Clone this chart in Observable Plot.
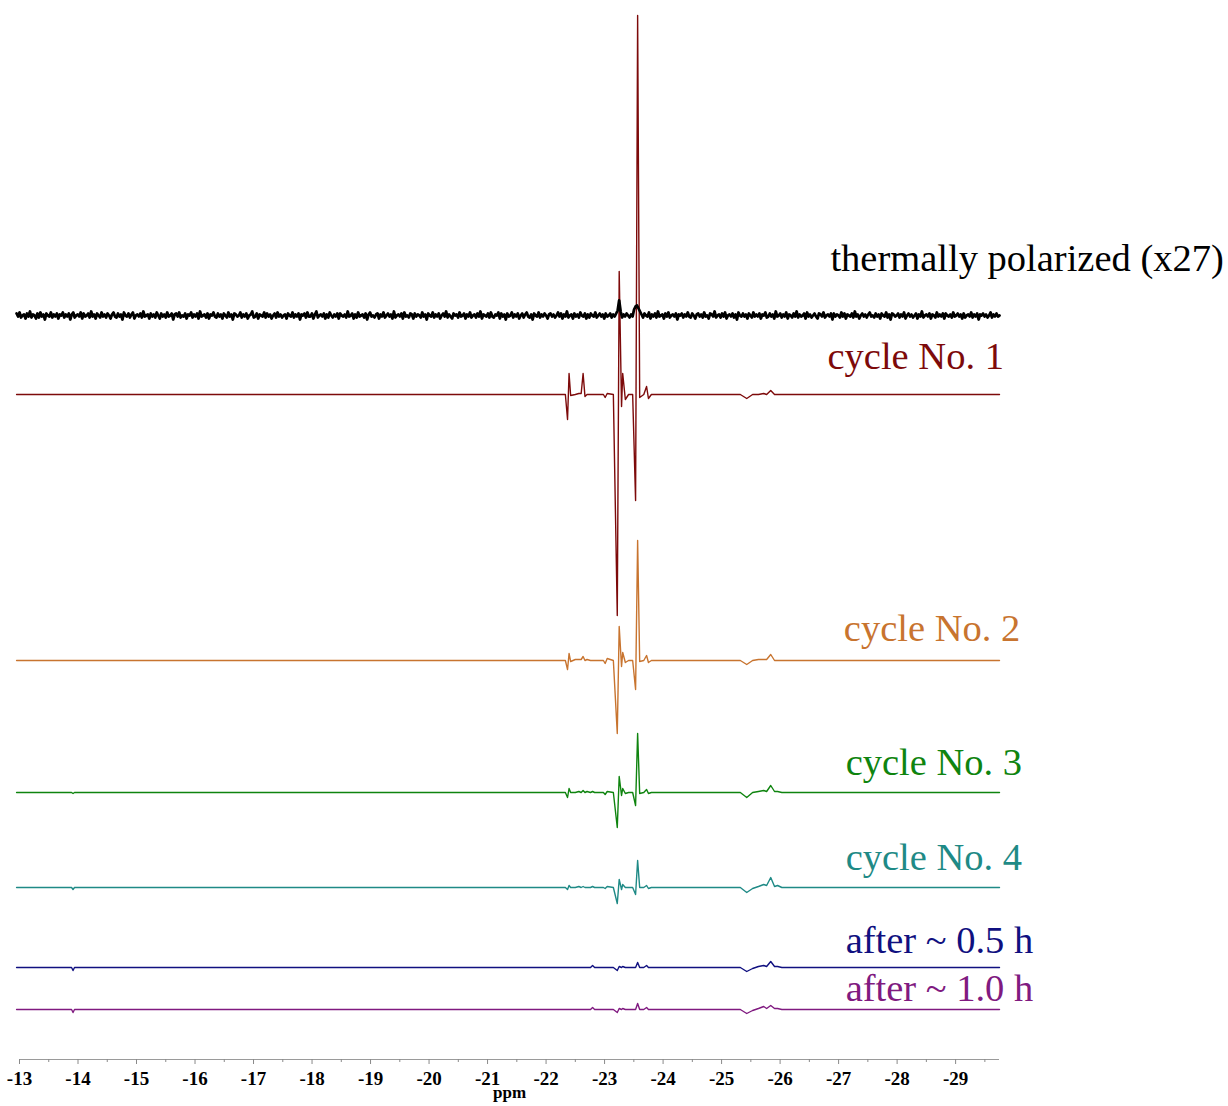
<!DOCTYPE html>
<html>
<head>
<meta charset="utf-8">
<script src="https://cdn.jsdelivr.net/npm/d3@7"></script>
<script src="https://cdn.jsdelivr.net/npm/@observablehq/plot@0.6"></script>
<style>
  html, body { margin: 0; padding: 0; background: #fff; }
  #chart svg { display: block; }
  #chart g[aria-label="x-axis tick label"] text {
    font-family: 'Liberation Serif', 'Times New Roman', serif;
    font-size: 19px;
    font-weight: bold;
  }
</style>
</head>
<body>
<div id="chart"></div>
<script>
// Chemical shift (ppm) of the vertices of the hyperpolarized traces
const shifts = [
  -12.95, -13.89, -13.915, -13.94,
  -22.33, -22.367, -22.393, -22.42, -22.50, -22.56, -22.60, -22.633, -22.665, -22.70,
  -22.76, -22.795, -22.83, -22.98, -23.01, -23.045, -23.15,
  -23.217, -23.25, -23.29, -23.31, -23.355, -23.41,
  -23.48, -23.53, -23.565, -23.60, -23.67, -23.718, -23.75, -23.80,
  -25.32, -25.43, -25.53, -25.63, -25.72, -25.77, -25.84, -25.905, -25.957, -26.03,
  -29.75
];

// Intensities (arbitrary units) at each shift above
const cycle1 = [0, 0, 0, 0,  0, -25, 21, -1, 0, 1, 1, 21, -2, 0,  0, 0, 0, 0, -3, 1, 0,
  -221, 123, -12, 21, -5, 0,  0, -106, 379, -3, 0, 8, -4, 0,  0, -4, 0, 0, 1, 0, 4, 0, 0, 0,  0];
const cycle2 = [0, 0, 0, 0,  0, -9, 7, -1, 1, 1, 1, 4, 0, 1,  0, 0, 0, 0, -3, 2, 0,
  -73, 34, -6, 8, -2, 0,  0, -29, 120, -1, 0, 5, -2, 0,  0, -4, 0, 1, 1, 1, 6, 0, 0, 0,  0];
const cycle3 = [0, 0, -1, 0,  0, -5, 4, 0, 0, 1, 0, 2, 0, 1,  0, 1, 0, 0, -2, 1, 0,
  -35, 16, -3, 4, -1, 0,  0, -13, 59, -1, 0, 3, -1, 0,  0, -5, 0, 1, 2, 1, 7, 1, 1, 0,  0];
const cycle4 = [0, 0, -2, 0,  0, -2, 2, 0, 0, 1, 0, 1, 0, 0,  0, 1, 0, 0, -1, 1, 0,
  -16, 8, -2, 3, 0, 0,  0, -7, 27, 0, 0, 2, -1, 0,  0, -5, -1, 1, 3, 2, 10, 1, 2, 0,  0];
const after05h = [0, 0, -3, 0,  0, 0, 0, 0, 0, 0, 0, 0, 0, 0,  0, 2, 0, 0, 0, 0, 0,
  -3, 1, 0, 1, 0, 0,  0, 0, 5, 0, 0, 2, 0, 0,  0, -4, -1, 1, 2, 1, 6, 1, 1, 0,  0];
const after10h = [0, 0, -3, 0,  0, 0, 0, 0, 0, 0, 0, 0, 0, 0,  0, 2, 0, 0, 0, 0, 0,
  -3, 1, 0, 1, 0, 0,  0, 0, 6, 0, 0, 2, 0, 0,  0, -4, -1, 1, 3, 1, 4, 1, 1, 0,  0];

// Thermally polarized reference (x27), sampled evenly from -12.95 to -29.75 ppm
const thermalStart = -12.95, thermalEnd = -29.75;
const thermal = [
  2,-1,3,-2,0,1,-3,2,-1,4,-2,1,0,-3,2,-2,3,-1,1,-4,2,0,-1,3,-2,1,-1,2,-3,1,
  0,3,-2,1,-1,2,-4,1,3,-2,0,1,-1,3,-3,2,-1,0,2,-2,4,-1,1,-3,2,0,-2,3,-1,1,
  -2,2,0,-3,1,3,-1,-2,2,-1,1,-4,3,0,-1,2,-2,1,3,-3,0,1,-1,2,-2,4,-1,0,1,-3,
  2,-1,1,-2,3,0,-3,2,-1,1,-2,3,-1,0,2,-4,1,2,-1,3,-2,0,-1,2,-3,1,0,3,-2,1,
  -1,2,-3,4,-1,0,1,-2,2,-3,1,0,3,-1,-2,2,-1,1,-3,2,0,-2,3,-1,1,-4,2,1,-1,0,
  3,-2,1,-1,2,-3,0,1,4,-2,-1,2,-3,1,0,-1,3,-2,2,-1,1,-3,0,2,-2,3,-1,1,-2,0,
  1,-3,2,0,-1,3,-2,1,-1,2,-4,1,0,2,-2,3,-1,-1,2,-3,1,4,-2,0,1,-1,2,-3,1,-2,
  3,0,-2,1,-1,2,-3,2,0,-1,1,-2,4,-1,0,2,-3,1,-2,3,-1,0,1,-2,2,-4,1,3,-1,0,
  -2,1,2,-3,1,-1,3,-2,0,2,-1,1,-3,4,-2,0,1,-1,2,-3,3,-1,0,-2,2,1,-3,2,-1,1,
  0,-2,3,-1,1,-4,2,0,-1,3,-2,1,-1,2,-3,0,2,-1,4,-2,1,-1,-3,2,0,1,-2,3,-1,0,
  2,-3,1,-1,3,-2,0,1,-2,2,-1,4,-3,1,0,-1,2,-2,3,-1,-2,1,0,3,-3,2,-1,1,-4,2,
  -1,0,3,-2,1,-1,2,-3,0,2,-2,1,3,-1,-2,1,-4,2,0,-1,3,-2,1,-1,2,0,-3,1,2,-1,
  1,-2,0,3,-1,2,-3,1,-1,4,-2,0,1,-3,2,-1,1,-2,3,0,-1,2,-3,1,-2,2,0,-1,3,-2,
  0,2,-1,1,-3,2,-1,0,2,-2,1,-1,2,5,15,4,-2,1,-1,2,0,-2,1,-1,6,9,10,7,4,1,
  -2,2,0,-1,3,-3,1,-1,2,-2,4,-1,0,1,-3,2,-1,3,-2,0,1,-1,2,-4,1,0,2,-2,1,-1,
  3,-1,-2,2,0,-3,1,2,-1,1,-2,3,-1,0,-3,2,1,-1,4,-2,0,1,-2,2,-1,3,-3,0,1,-1,
  2,-2,1,-4,3,0,-1,2,-1,1,-3,2,0,-2,3,-1,1,-1,2,-3,1,0,3,-2,-1,2,-1,1,-3,4,
  -1,0,2,-2,1,-1,3,-3,1,0,-2,2,-1,4,-2,1,-1,0,2,-3,3,-1,1,-2,0,2,-1,-3,2,1,
  -1,3,-2,0,1,-1,2,-4,2,-1,1,0,-2,3,-1,2,-3,1,0,-1,2,-2,4,-1,1,-3,0,2,-1,1,
  -2,1,3,-1,0,-2,2,-1,1,-3,2,0,-1,3,-2,1,-4,2,1,-1,0,2,-2,1,-1,3,-3,0,2,-1,
  1,-2,0,2,-3,1,-1,4,-2,0,1,-1,2,-3,1,0,-2,3,-1,1,-1,2,-3,2,0,-1,1,-2,3,-1,
  0,2,-1,1,-3,2,-2,0,1,-1,3,-2,1,-1,2,-4,1,0,2,-1,1,-2,0,3,-2,1,-1,2,-1,0
];

const seriesNames = [
  "thermally polarized (x27)", "cycle No. 1", "cycle No. 2", "cycle No. 3",
  "cycle No. 4", "after ~ 0.5 h", "after ~ 1.0 h"
];
const seriesColors = ["#000000", "#7d0a0a", "#c8742f", "#0f840f", "#1f8a86", "#101080", "#801a80"];
const majorTicks = [-13, -14, -15, -16, -17, -18, -19, -20, -21, -22, -23, -24, -25, -26, -27, -28, -29];
const minorTicks = [-13.5, -14.5, -15.5, -16.5, -17.5, -18.5, -19.5, -20.5, -21.5, -22.5, -23.5,
  -24.5, -25.5, -26.5, -27.5, -28.5, -29.5];

// Stacking: vertical offset of each trace, and label placement relative to it
const baselines = [744, 665, 399, 267, 172, 92, 50];
const labelLift = [57, 38, 32, 30, 30, 27, 21];
const labelStart = [-26.86, -26.81, -27.09, -27.12, -27.12, -27.12, -27.12];

const hpSeries = [cycle1, cycle2, cycle3, cycle4, after05h, after10h];

const thermalRows = thermal.map((v, i) => ({
  series: seriesNames[0],
  color: seriesColors[0],
  ppm: thermalStart + (thermalEnd - thermalStart) * i / (thermal.length - 1),
  y: baselines[0] + v
}));

const hpRows = hpSeries.flatMap((vals, k) => vals.map((v, i) => ({
  series: seriesNames[k + 1],
  color: seriesColors[k + 1],
  ppm: shifts[i],
  y: baselines[k + 1] + v
})));

const labelRows = seriesNames.map((name, k) => ({
  name, color: seriesColors[k], ppm: labelStart[k], y: baselines[k] + labelLift[k]
}));

const serif = "'Liberation Serif', 'Times New Roman', serif";

const chart = Plot.plot({
  width: 1228,
  height: 1106,
  marginLeft: 19,
  marginRight: 229,
  marginTop: 0,
  marginBottom: 47,
  style: { fontFamily: serif, background: "#fff" },
  x: { domain: [-13, -29.75], label: null },
  y: { domain: [0, 1059], axis: null },
  color: { type: "identity" },
  marks: [
    Plot.ruleY([0], { stroke: "#9a9a9a", strokeWidth: 1.2 }),
    Plot.axisX({
      ticks: minorTicks, tickSize: 3, tickFormat: () => "", stroke: "#8a8a8a", label: null
    }),
    Plot.axisX({
      ticks: majorTicks, tickSize: 5, tickPadding: 7, tickFormat: d => `${d}`,
      stroke: "#8a8a8a", fill: "#000", fontSize: 19, fontWeight: "bold", label: null
    }),
    Plot.line(hpRows, {
      x: "ppm", y: "y", z: "series", stroke: "color",
      strokeWidth: 1.4, strokeLinejoin: "round", curve: "linear"
    }),
    Plot.line(thermalRows, {
      x: "ppm", y: "y", z: "series", stroke: "color",
      strokeWidth: 2.8
    }),
    Plot.text(labelRows, {
      x: "ppm", y: "y", text: "name", fill: "color", textAnchor: "start",
      fontSize: 38.5, fontFamily: serif
    }),
    Plot.text(["ppm"], {
      frameAnchor: "bottom", dy: 38, fontSize: 17, fontWeight: "bold", fontFamily: serif, fill: "#000"
    })
  ]
});

document.getElementById("chart").append(chart);
</script>
</body>
</html>
